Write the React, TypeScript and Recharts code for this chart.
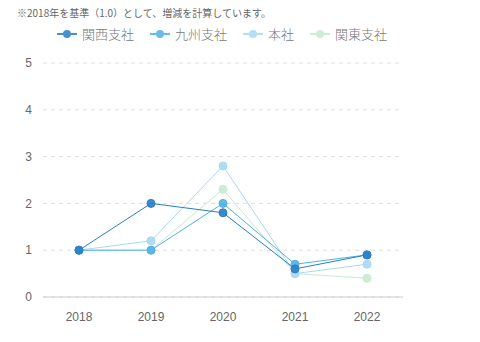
import React from "react";
import { LineChart, Line, XAxis, YAxis, CartesianGrid, Legend } from "recharts";

const years = ["2018", "2019", "2020", "2021", "2022"];
const kansai = [1, 2, 1.8, 0.6, 0.9];
const kyushu = [1, 1, 2, 0.7, 0.9];
const honsha = [1, 1.2, 2.8, 0.5, 0.7];
const kanto = [1, 1, 2.3, 0.5, 0.4];
const yTicks = [0, 1, 2, 3, 4, 5];
const note = "※2018年を基準（1.0）として、増減を計算しています。";

const seriesList = [
  { key: "kansai", name: "関西支社", color: "#2a7dc6", values: kansai },
  { key: "kyushu", name: "九州支社", color: "#4fb0e9", values: kyushu },
  { key: "honsha", name: "本社", color: "#a8d8f5", values: honsha },
  { key: "kanto", name: "関東支社", color: "#c6ebd3", values: kanto },
];

const data = years.map((y, i) => {
  const row: Record<string, string | number> = { year: y };
  seriesList.forEach((s) => (row[s.key] = s.values[i]));
  return row;
});

const font = "'Noto Sans CJK JP', 'Noto Sans', sans-serif";
const tickFont = "'Liberation Sans', Arial, sans-serif";

const LegendContent = () => (
  <div style={{ display: "flex", justifyContent: "flex-start", paddingLeft: 57, fontFamily: font, fontSize: 13, fontWeight: 300, color: "#777" }}>
    {seriesList.map((s) => (
      <div key={s.key} style={{ display: "flex", alignItems: "center", marginRight: 16 }}>
        <svg width={20} height={10} style={{ marginRight: 5, opacity: 0.85 }}>
          <line x1={0} y1={5} x2={20} y2={5} stroke={s.color} strokeWidth={2} />
          <circle cx={10} cy={5} r={4} fill={s.color} />
        </svg>
        <span>{s.name}</span>
      </div>
    ))}
  </div>
);

export default function App() {
  return (
    <div style={{ position: "absolute", left: 0, top: 0, width: 480, height: 342, background: "#fff" }}>
      <div style={{ position: "absolute", left: 17, top: 5, fontFamily: font, fontSize: 10, color: "#666" }}>{note}</div>
      <LineChart
        width={480}
        height={342}
        data={data}
        margin={{ top: 24, right: 77, bottom: 15, left: 0 }}
      >
        <CartesianGrid vertical={false} stroke="#ddd" strokeDasharray="4 4" />
        <Legend verticalAlign="top" align="left" height={39} content={<LegendContent />} />
        <XAxis
          dataKey="year"
          stroke="#ccc"
          tickLine={false}
          tickMargin={9}
          padding={{ left: 36, right: 36 }}
          tick={{ fill: "#666", fontSize: 12, fontFamily: tickFont }}
        />
        <YAxis
          width={43}
          domain={[0, 5]}
          ticks={yTicks}
          axisLine={false}
          tickLine={false}
          tickMargin={5}
          tick={{ fill: "#666", fontSize: 12, fontFamily: tickFont }}
        />
        {[...seriesList].reverse().map((s) => (
          <Line
            key={s.key}
            dataKey={s.key}
            name={s.name}
            stroke={s.color}
            strokeWidth={1}
            dot={{ r: 4, fill: s.color, stroke: s.color, strokeWidth: 1, fillOpacity: 0.9 }}
            isAnimationActive={false}
          />
        ))}
      </LineChart>
    </div>
  );
}
